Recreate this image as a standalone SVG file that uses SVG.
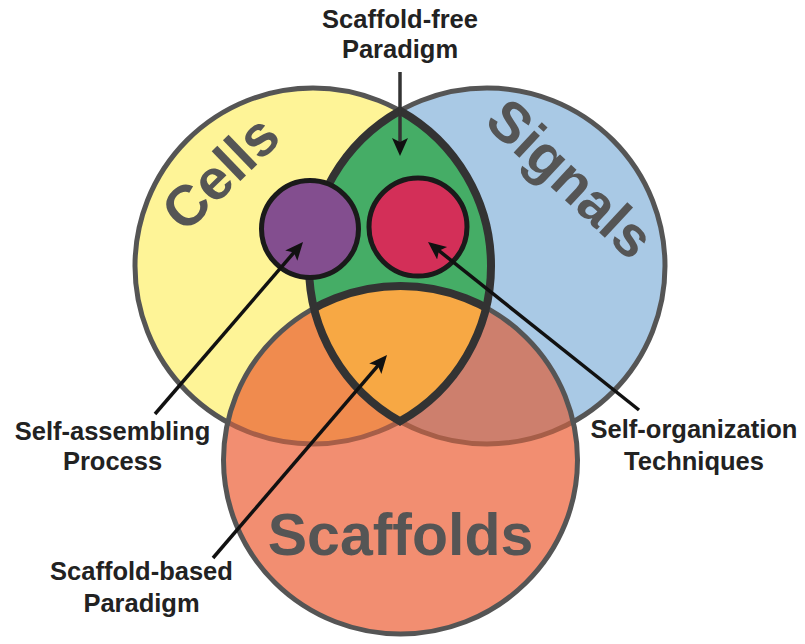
<svg xmlns="http://www.w3.org/2000/svg" width="805" height="644" viewBox="0 0 805 644">
<style>
.lbl { font-family: "Liberation Sans", Arial, sans-serif; font-weight: bold; font-size: 25.5px; fill: #222; text-anchor: middle; }
.big { font-family: "Liberation Sans", Arial, sans-serif; font-weight: bold; font-size: 57px; fill: #555; text-anchor: middle; }
.ring { stroke: #555; stroke-width: 5; }
.inner { stroke: #A65E48; stroke-width: 5; }
.thick { stroke: #333; stroke-width: 8; }
.dot { stroke: #1a1a1a; stroke-width: 5; }
.arrow { stroke: #111; stroke-width: 3.5; fill: none; marker-end: url(#ah); }
</style>
<defs>
<clipPath id="clipScaf"><ellipse cx="400.5" cy="460" rx="177" ry="174"/></clipPath>
<clipPath id="clipLens"><path d="M400 110.7 A178 178 0 0 1 400 421.3 A178 178 0 0 1 400 110.7Z"/></clipPath>
<marker id="ah" markerUnits="userSpaceOnUse" markerWidth="20" markerHeight="18" refX="12" refY="8" orient="auto"><path d="M0,0 L18,8 L0,16 L4,8Z" fill="#111"/></marker>
</defs>
<rect width="805" height="644" fill="#fff"/>
<g id="cells">
<circle cx="313" cy="266" r="178" fill="#FEF497" class="ring"/>
<text class="big" transform="translate(234,187) rotate(-44)">Cells</text>
</g>
<g id="signals">
<circle cx="487" cy="266" r="178" fill="#A9C9E5" class="ring"/>
<text class="big" transform="translate(557,193) rotate(43)">Signals</text>
</g>
<g id="scaffolds">
<ellipse cx="400.5" cy="460" rx="177" ry="174" fill="#F28E71"/>
<g clip-path="url(#clipScaf)">
<circle cx="313" cy="266" r="178" fill="#F08B4E" class="inner"/>
<circle cx="487" cy="266" r="178" fill="#CD7F6D" class="inner"/>
</g>
<ellipse cx="400.5" cy="460" rx="177" ry="174" fill="none" class="ring"/>
<text class="big" x="400.5" y="555" style="font-size:59px">Scaffolds</text>
</g>
<g id="scaffold-free-region">
<path d="M400 110.7 A178 178 0 0 1 400 421.3 A178 178 0 0 1 400 110.7Z" fill="#45AD66"/>
<ellipse cx="400.5" cy="460" rx="177" ry="174" fill="#F7A844" class="thick" clip-path="url(#clipLens)"/>
<path d="M400 110.7 A178 178 0 0 1 400 421.3 A178 178 0 0 1 400 110.7Z" fill="none" class="thick"/>
</g>
<g id="self-assembling-node"><circle cx="310" cy="229" r="48.5" fill="#834E8F" class="dot"/></g>
<g id="self-organization-node"><circle cx="418" cy="227" r="49" fill="#D32F58" class="dot"/></g>
<g id="connectors">
<path class="arrow" d="M400 72 L400 150" style="stroke:#333"/>
<path class="arrow" d="M155 414 L299.1 246.5"/>
<path class="arrow" d="M639 410 L432.7 245.7"/>
<path class="arrow" d="M213 558 L383.1 359.6"/>
</g>
<g id="label-scaffold-free">
<text class="lbl" x="400" y="28">Scaffold-free</text>
<text class="lbl" x="400" y="58">Paradigm</text>
</g>
<g id="label-self-assembling">
<text class="lbl" x="112.5" y="440">Self-assembling</text>
<text class="lbl" x="112.5" y="470">Process</text>
</g>
<g id="label-self-organization">
<text class="lbl" x="694" y="438">Self-organization</text>
<text class="lbl" x="694" y="470">Techniques</text>
</g>
<g id="label-scaffold-based">
<text class="lbl" x="141.5" y="580">Scaffold-based</text>
<text class="lbl" x="141.5" y="612">Paradigm</text>
</g>
</svg>
